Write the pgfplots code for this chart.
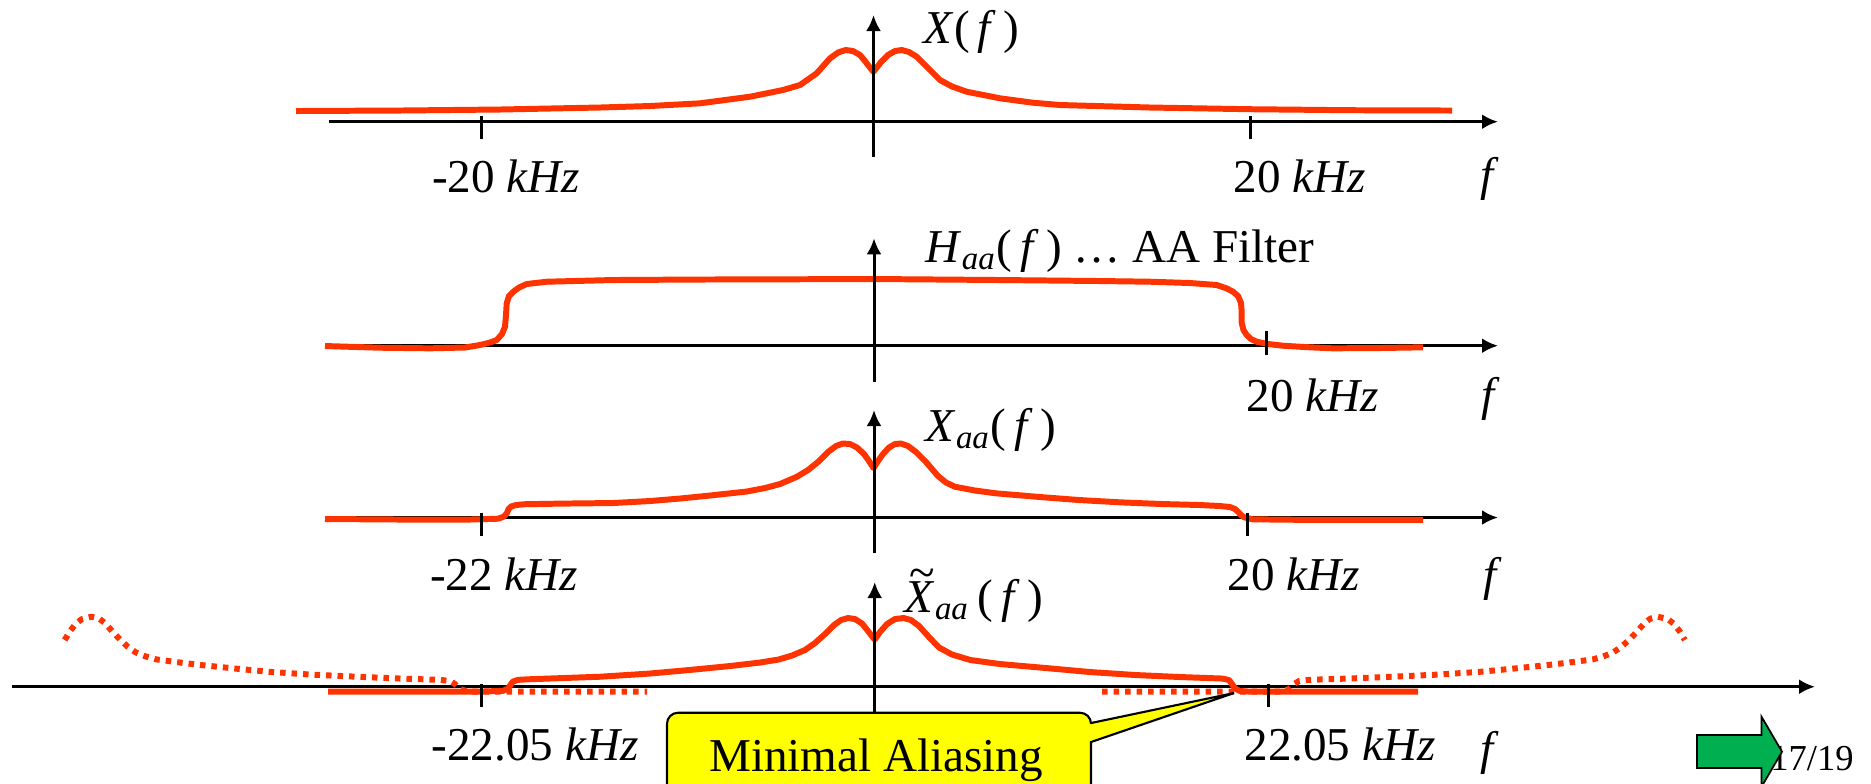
\documentclass[border=0pt]{standalone}
\usepackage{fontspec}
\setmainfont{Liberation Serif}
\usepackage{pgfplots}
\pgfplotsset{compat=1.18}
\usetikzlibrary{arrows.meta}
\definecolor{curvered}{HTML}{FF3300}
\definecolor{pptgreen}{HTML}{00B050}
\definecolor{callout}{HTML}{FFFF00}
\newcommand{\tX}{\makebox[0pt][l]{\hspace{0.1em}\raisebox{0.5em}{\textasciitilde}}\textit{X}}
\begin{document}
\begin{tikzpicture}[
  lbl/.style={font=\fontsize{13.4}{16}\selectfont, inner sep=0pt},
  ax/.style={black, line width=0.85pt},
  axarr/.style={black, line width=0.85pt, -{Latex[length=1.6mm,width=1.5mm]}},
]
\begin{axis}[
  scale only axis, width=187.1mm, height=78.3mm,
  xmin=0, xmax=1871, ymin=0, ymax=783, y dir=reverse,
  axis lines=none, clip=false,
  redc/.style={color=curvered, line width=1.7pt, line join=round, line cap=butt, mark=none, solid},
  redd/.style={color=curvered, line width=1.7pt, line join=round, line cap=butt, mark=none, dash pattern=on 0.55mm off 0.6mm},
]
% ---------- horizontal axes ----------
\draw[axarr] (axis cs:328.8,121.7) -- (axis cs:1498,121.7);
\draw[axarr] (axis cs:325,345.7) -- (axis cs:1498,345.7);
\draw[axarr] (axis cs:325,517.5) -- (axis cs:1498,517.5);
\draw[axarr] (axis cs:12,686.7) -- (axis cs:1815,686.7);

% ---------- Panel 1: X(f) ----------
\addplot[redc] coordinates {
(296,111) (400,110.5) (500,109.5) (600,107.5) (650,106) (700,103.3) (750,96.7) (783,90)
(800,85) (816.7,73.3) (830,58.3) (838,52.5) (845.7,50) (853,51) (860,55) (865,61) (868,65)
(873.3,71.7) (878,66) (881,62) (888,55) (895,51) (901.7,50) (909,52) (916.7,56.7) (923,63)
(930,70) (940,80) (952,86.5) (966.7,91.7) (1000,98.3) (1033,102.7) (1060,105) (1150,107.5)
(1250,109.2) (1350,110.2) (1452,110.5)
};

% ---------- Panel 2: H_aa(f) ----------
\addplot[redc] coordinates {
(325,346) (380,347.7) (430,348.3) (465,347.5) (480,345) (490,342.5) (496.7,340) (502,334)
(505,326.7) (506,315) (506.7,303.3) (509,296) (513.3,291.7) (519,287.5) (526.7,284)
(546.7,281.7) (613,280) (700,279.5) (780,279.3) (875,279) (1000,280) (1100,281) (1150,281.7)
(1190,283) (1216.7,285) (1227,288.5) (1233,291.7) (1238,296) (1241,303) (1241.7,312)
(1241.7,323) (1243.5,330) (1246.7,335) (1251,339) (1256.7,341.7) (1268,344) (1283,345.7)
(1310,347.3) (1333,348.3) (1380,348) (1423,347.3)
};

% ---------- Panel 3: X_aa(f) ----------
\addplot[redc] coordinates {
(325,519) (400,519.5) (470,519.5) (498,518.7) (504,516.5) (507,513) (508.5,509) (511,506.5)
(516,505) (525,504.2) (560,503.6) (613,503) (650,501) (680,498.5) (710,495.5) (746.7,491.5)
(765,488) (780,484) (797,476.7) (808,470) (818,462) (828,452) (836,446) (842.9,443.5)
(850,444) (857,447.5) (864,454) (869,461) (873.5,468) (878,461) (883,454) (889,447.5)
(895,444) (900.9,443.5) (908,446) (916,452) (926,462) (938,476) (946,482.5) (954.8,486.7)
(975,490.5) (996,493.3) (1040,497) (1079,500) (1120,502.3) (1162,504) (1200,505) (1220,506)
(1230,507) (1235,509) (1238,511.7) (1241,515) (1244,517.2) (1253,519.3) (1300,519.8)
(1423,519.8)
};

% ---------- Panel 4: aliased copies (dotted) ----------
\addplot[redd] coordinates {
(64.7,640) (70,631) (76,623.5) (82,619) (91.5,616.7) (99,618.5) (105,623) (112,631)
(120.5,640) (128,647) (136,652.5) (146,656.5) (156,659.3) (180,662.5) (201,665) (235,668.5)
(268,671.7) (310,674.5) (357,676.7) (400,678.5) (440,679.8) (450,681) (455,684) (460,689)
(468,691.5) (500,691.7) (560,691.7) (647,691.7)
};
\addplot[redd] coordinates {
(1102,691.7) (1190,691.7) (1249,691.7) (1281,691.5) (1289,689) (1294,684) (1299,681)
(1309,679.8) (1349,678.5) (1392,676.7) (1439,674.5) (1481,671.7) (1514,668.5) (1548,665)
(1569,662.5) (1593,659.3) (1603,656.5) (1613,652.5) (1621,647) (1629,640) (1637.5,631)
(1644.5,623) (1650.5,618.5) (1658,616.7) (1667.5,619) (1673.5,623.5) (1679.5,631)
(1684.8,640)
};

% ---------- Panel 4: main spectrum (solid) ----------
\addplot[redc] coordinates {
(328,691.5) (400,691.6) (480,691.6) (503,690.8) (508,688.5) (511,684) (513,681.5) (518,679.8)
(530,679.2) (600,676.7) (650,673.5) (689,670) (730,666) (760,662.5) (778.6,659.5) (792,655.5)
(805,650) (815,643) (825,634) (834,625) (841,620) (848,618) (855,619) (862,623.5) (868,631)
(874.6,639.5) (880,632) (887,624) (895,619) (903.6,618) (911,620) (919,626) (928,636)
(939,647.5) (952,654.5) (970.5,660) (1000,664) (1046,668) (1090,672) (1135.7,675)
(1180,677) (1222,678.5) (1229,680) (1232,684) (1235,688.5) (1240,691) (1250,691.6)
(1300,691.6) (1418,691.6)
};

% ---------- vertical axes ----------
\draw[axarr] (axis cs:873.5,156.7) -- (axis cs:873.5,15);
\draw[axarr] (axis cs:874,381.7) -- (axis cs:874,238.3);
\draw[axarr] (axis cs:874,553) -- (axis cs:874,410);
\draw[axarr] (axis cs:874.7,715) -- (axis cs:874.7,582);

% ---------- ticks ----------
\draw[ax] (axis cs:481,116) -- (axis cs:481,139);
\draw[ax] (axis cs:1250,116) -- (axis cs:1250,139);
\draw[ax] (axis cs:1266,331) -- (axis cs:1266,355);
\draw[ax] (axis cs:481.7,512.7) -- (axis cs:481.7,535.7);
\draw[ax] (axis cs:1247.7,512.7) -- (axis cs:1247.7,535.7);
\draw[ax] (axis cs:481,684) -- (axis cs:481,707);
\draw[ax] (axis cs:1268,684) -- (axis cs:1268,707);

% ---------- labels ----------
\node[lbl, anchor=base west] at (axis cs:923,43) {\textit{X}(\,\textit{f}\,)};
\node[lbl, anchor=base] at (axis cs:506,192) {-20 \textit{kHz}};
\node[lbl, anchor=base] at (axis cs:1300,192) {20 \textit{kHz}};
\node[lbl, anchor=base] at (axis cs:1490,190) {\textit{f}};

\node[lbl, anchor=base west] at (axis cs:925,262) {\textit{H}\textsubscript{\textit{aa}}(\,\textit{f}\,) \dots\ AA Filter};
\node[lbl, anchor=base] at (axis cs:1313,411) {20 \textit{kHz}};
\node[lbl, anchor=base] at (axis cs:1491,410) {\textit{f}};

\node[lbl, anchor=base west] at (axis cs:925,441) {\textit{X}\textsubscript{\textit{aa}}(\,\textit{f}\,)};
\node[lbl, anchor=base] at (axis cs:504,590) {-22 \textit{kHz}};
\node[lbl, anchor=base] at (axis cs:1294,590) {20 \textit{kHz}};
\node[lbl, anchor=base] at (axis cs:1493,590) {\textit{f}};

\node[lbl, anchor=base west] at (axis cs:904,612) {\tX\textsubscript{\textit{aa}}\,(\,\textit{f}\,)};
\node[lbl, anchor=base] at (axis cs:535,760) {-22.05 \textit{kHz}};
\node[lbl, anchor=base] at (axis cs:1340,760) {22.05 \textit{kHz}};
\node[lbl, anchor=base] at (axis cs:1490,764) {\textit{f}};

% ---------- callout ----------
\draw[black, line width=0.6pt, fill=callout, rounded corners=1.1mm]
  (axis cs:667,800) -- (axis cs:667,712.7) -- (axis cs:1091,712.7) [sharp corners] -- (axis cs:1091,723)
  -- (axis cs:1234,693) -- (axis cs:1091,742) -- (axis cs:1091,800);
\node[lbl, anchor=base] at (axis cs:876,771.7) {Minimal Aliasing};

% ---------- page number and green arrow ----------
\node[font=\fontsize{10.4}{12}\selectfont, inner sep=0pt, anchor=base] at (axis cs:1812,770) {17/19};
\draw[black, line width=0.5pt, fill=pptgreen]
  (axis cs:1697,735) -- (axis cs:1761.5,735) -- (axis cs:1761.5,716.7) -- (axis cs:1782,751.7)
  -- (axis cs:1761.5,786.7) -- (axis cs:1761.5,768) -- (axis cs:1697,768) -- cycle;
\end{axis}
\pgfresetboundingbox
\path[use as bounding box] (current axis.south west) rectangle (current axis.north east);
\end{tikzpicture}
\end{document}
